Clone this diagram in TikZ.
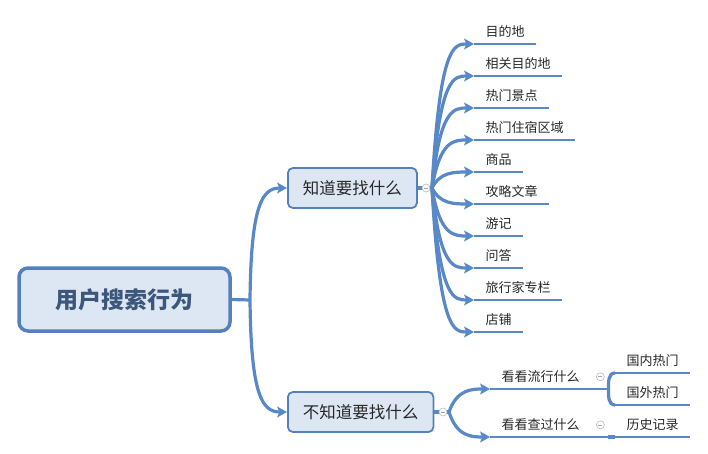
\documentclass[tikz,border=0pt]{standalone}
\usepackage{fontspec}
\setmainfont{Noto Sans CJK SC}
\usetikzlibrary{arrows.meta, positioning, calc}
\definecolor{linkblue}{RGB}{88,136,200}
\definecolor{boxblue}{RGB}{84,128,190}
\definecolor{boxfill}{RGB}{221,231,243}
\definecolor{roottext}{RGB}{60,86,124}
\definecolor{leaftext}{RGB}{40,40,40}
\tikzset{
    rootblock/.style={rectangle, draw=boxblue, line width=3.5pt, fill=boxfill, rounded corners=9pt, minimum width=211pt, minimum height=63pt, text=roottext, font=\fontsize{23pt}{26pt}\selectfont\bfseries},
    topicblock/.style={rectangle, draw=boxblue, line width=1.8pt, fill=boxfill, rounded corners=5pt, inner xsep=15pt, minimum height=40pt, text=leaftext, font=\fontsize{16.5pt}{19pt}\selectfont},
    leaf/.style={anchor=south west, inner xsep=11.5pt, inner ysep=6pt, text=leaftext, font=\fontsize{13pt}{15pt}\selectfont},
    subleaf/.style={leaf, text width=95pt, align=left},
    branch/.style={draw=linkblue, line width=3.2pt, -{Stealth[length=10pt, width=11pt, inset=2.5pt]}},
    link/.style={draw=linkblue, line width=3.2pt},
    underline/.style={draw=linkblue, line width=2.6pt},
    fold/.style={circle, draw=gray!55, fill=white, line width=0.6pt, minimum size=8pt, inner sep=0pt,
        path picture={\draw[gray!70, line width=0.6pt] ([xshift=-2pt]path picture bounding box.center) -- ([xshift=2pt]path picture bounding box.center);}},
}
\begin{document}
\begin{tikzpicture}[x=1pt, y=-1pt]
\useasboundingbox (0,0) rectangle (708,454);

% Root and main topics
\node[rootblock] (root) at (124.5,299.5) {用户搜索行为};
\node[topicblock, anchor=west] (know) at (287,188) {知道要找什么};
\node[topicblock, anchor=west] (unknow) at (287,412) {不知道要找什么};

% Junctions
\coordinate (j0) at (250,300);
\coordinate (j1) at (432,188);
\coordinate (j1x) at (440,188);
\coordinate (j2) at (449,412);
\coordinate (j2x) at (457,412);

% Root to topics
\draw[link] (root.east) -- (j0);
\draw[branch] (j0) .. controls (251,205) and (262,188) .. (know.west);
\draw[branch] (j0) .. controls (251,395) and (262,412) .. (unknow.west);

% Known targets
\draw[link] (know.east) -- (j1);
\foreach \y/\txt [count=\i] in {44/目的地, 76/相关目的地, 108/热门景点, 140/热门住宿区域, 172/商品, 204/攻略文章, 236/游记, 268/问答, 300/旅行家专栏, 332/店铺}
{
    \node[leaf] (leaf\i) at (474,\y) {\txt};
    \draw[branch] (j1) .. controls (j1x |- leaf\i.south west) and ([xshift=-20pt]leaf\i.south west) .. (leaf\i.south west);
    \draw[underline] (leaf\i.south west) -- (leaf\i.south east);
}

% Unknown targets
\draw[link] (unknow.east) -- (j2);
\node[subleaf] (browse) at (490,389) {看看流行什么};
\node[subleaf] (viewed) at (490,437) {看看查过什么};
\draw[branch] (j2) .. controls (j2x |- browse.south west) and ([xshift=-18pt]browse.south west) .. (browse.south west);
\draw[branch] (j2) .. controls (j2x |- viewed.south west) and ([xshift=-18pt]viewed.south west) .. (viewed.south west);
\draw[underline] (browse.south west) -- (browse.south east);
\draw[underline] (viewed.south west) -- (viewed.south east);

\node[leaf] (domhot) at (615,373) {国内热门};
\node[leaf] (abrhot) at (615,405) {国外热门};
\node[leaf] (history) at (615,437) {历史记录};
\draw[link] (browse.south east) to[out=90, in=180] (domhot.south west);
\draw[link] (browse.south east) to[out=-90, in=180] (abrhot.south west);
\draw[link] (viewed.south east) -- (history.south west);
\draw[underline] (domhot.south west) -- (domhot.south east);
\draw[underline] (abrhot.south west) -- (abrhot.south east);
\draw[underline] (history.south west) -- (history.south east);

% Fold markers
\node[fold] (foldknow) at (426,188) {};
\node[fold] (foldunknow) at (443,412) {};
\node[fold] (foldbrowse) at ([xshift=-8pt]browse.east) {};
\node[fold] (foldviewed) at ([xshift=-8pt]viewed.east) {};

\end{tikzpicture}
\end{document}
